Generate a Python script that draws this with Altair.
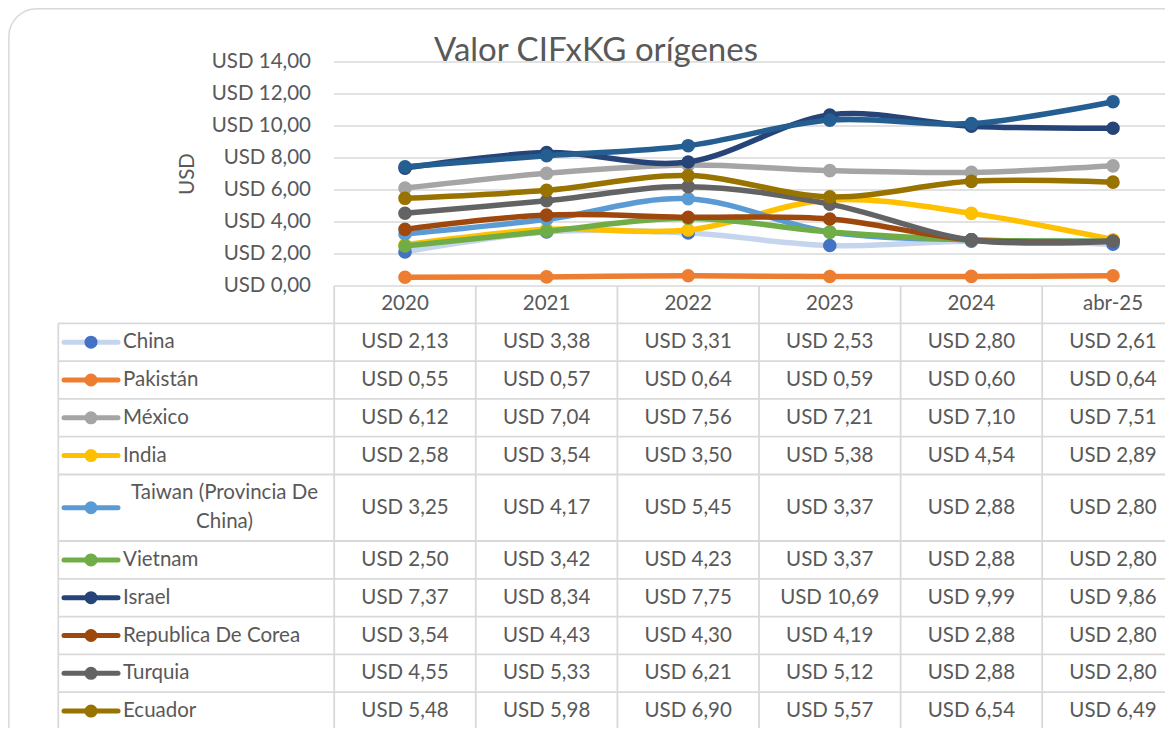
import altair as alt
import pandas as pd

# ---------------- data ----------------
periods = ["2020", "2021", "2022", "2023", "2024", "abr-25"]
series_names = ["China", "Pakistán", "México", "India", "Taiwan (Provincia De China)",
                "Vietnam", "Israel", "Republica De Corea", "Turquia", "Ecuador"]
china = [2.13, 3.38, 3.31, 2.53, 2.80, 2.61]
pakistan = [0.55, 0.57, 0.64, 0.59, 0.60, 0.64]
mexico = [6.12, 7.04, 7.56, 7.21, 7.10, 7.51]
india = [2.58, 3.54, 3.50, 5.38, 4.54, 2.89]
taiwan = [3.25, 4.17, 5.45, 3.37, 2.88, 2.80]
vietnam = [2.50, 3.42, 4.23, 3.37, 2.88, 2.80]
israel = [7.37, 8.34, 7.75, 10.69, 9.99, 9.86]
corea = [3.54, 4.43, 4.30, 4.19, 2.88, 2.80]
turquia = [4.55, 5.33, 6.21, 5.12, 2.88, 2.80]
ecuador = [5.48, 5.98, 6.90, 5.57, 6.54, 6.49]
# eleventh series: its table row lies below the visible area
hidden_name = "Serie 11"
hidden = [7.45, 8.14, 8.77, 10.37, 10.15, 11.52]
y_ticks = [0, 2, 4, 6, 8, 10, 12, 14]

table_values = [china, pakistan, mexico, india, taiwan, vietnam, israel, corea, turquia, ecuador]

# ---------------- styles ----------------
line_colors = ["#C6D5EE", "#ED7D31", "#A5A5A5", "#FFC000", "#5B9BD5", "#70AD47",
               "#264478", "#9E480E", "#636363", "#997300", "#255E91"]
marker_colors = ["#4472C4", "#ED7D31", "#A5A5A5", "#FFC000", "#5B9BD5", "#70AD47",
                 "#264478", "#9E480E", "#636363", "#997300", "#255E91"]
FONT = "Lato"
TXT = "#595959"
GRID = "#D9D9D9"
FS = 20.5

# ---------------- layout (page pixels -> scale units) ----------------
X0, XS = 405.0, 141.6   # page x of first period centre, px per period
Y0, YS = 286.0, 16.0    # page y of value 0, px per unit
PL, PR, PT, PB = 8, 1165, 8, 728   # keep the page from growing past the window
W, H = PR - PL, PB - PT


def px2i(px):
    return (px - X0) / XS


def py2v(py):
    return (Y0 - py) / YS


xdom = [px2i(PL), px2i(PR)]
ydom = [py2v(PB), py2v(PT)]
xs = alt.Scale(domain=xdom, nice=False, zero=False)
ys = alt.Scale(domain=ydom, nice=False, zero=False)


def X(f):
    return alt.X(f, type="quantitative", scale=xs, axis=None)


def Y(f):
    return alt.Y(f, type="quantitative", scale=ys, axis=None)


layers = []

# card border (clipped like the reference)
card = pd.DataFrame({"x": [px2i(8.8)], "x2": [px2i(1210)], "y": [py2v(8.8)], "y2": [py2v(760)]})
layers.append(alt.Chart(card).mark_rect(filled=False, stroke=GRID, strokeWidth=1.5,
                                        cornerRadius=28, clip=True).encode(
    x=X("x"), x2="x2", y=Y("y"), y2="y2"))

# horizontal gridlines
grid = pd.DataFrame({"g": y_ticks, "x": px2i(334.2), "x2": xdom[1]})
layers.append(alt.Chart(grid).mark_rule(color=GRID, strokeWidth=1.5).encode(
    x=X("x"), x2="x2", y=Y("g")))

# y axis labels
ylab = pd.DataFrame({"g": y_ticks,
                     "t": [f"USD {v:.2f}".replace(".", ",") for v in y_ticks],
                     "x": px2i(311)})
layers.append(alt.Chart(ylab).mark_text(align="right", baseline="middle", font=FONT,
                                        fontSize=FS, color=TXT).encode(
    x=X("x"), y=Y("g"), text="t:N"))

# y axis title
layers.append(alt.Chart(pd.DataFrame({"x": [px2i(188)], "y": [py2v(174)], "t": ["USD"]})).mark_text(
    angle=270, align="center", baseline="middle", font=FONT, fontSize=FS, color=TXT).encode(
    x=X("x"), y=Y("y"), text="t:N"))

# chart title
layers.append(alt.Chart(pd.DataFrame({"x": [px2i(596)], "y": [py2v(61)],
                                      "t": ["Valor CIFxKG orígenes"]})).mark_text(
    align="center", baseline="alphabetic", font=FONT, fontSize=33, color=TXT).encode(
    x=X("x"), y=Y("y"), text="t:N"))

# ---------------- table geometry ----------------
header_bottom = 323.3
tops, bots = [], []
cur = header_bottom
for name in series_names:
    h = 66.5 if name.startswith("Taiwan") else 37.8
    tops.append(cur)
    bots.append(cur + h)
    cur += h
table_bottom = cur

# horizontal table lines
hl = pd.DataFrame({"y": [py2v(v) for v in [header_bottom] + bots], "x": px2i(58.3), "x2": xdom[1]})
layers.append(alt.Chart(hl).mark_rule(color=GRID, strokeWidth=1.8).encode(
    x=X("x"), x2="x2", y=Y("y")))

# vertical column lines
vl = pd.DataFrame({"x": [k - 0.5 for k in range(len(periods) + 1)], "y": 0.0,
                   "y2": py2v(table_bottom)})
layers.append(alt.Chart(vl).mark_rule(color=GRID, strokeWidth=1.8).encode(
    x=X("x"), y=Y("y"), y2="y2"))
layers.append(alt.Chart(pd.DataFrame({"x": [px2i(58.3)], "y": [py2v(header_bottom)],
                                      "y2": [py2v(table_bottom)]})).mark_rule(
    color=GRID, strokeWidth=1.8).encode(x=X("x"), y=Y("y"), y2="y2"))

# header labels
hd = pd.DataFrame({"x": list(range(len(periods))), "y": py2v(304), "t": periods})
layers.append(alt.Chart(hd).mark_text(align="center", baseline="middle", font=FONT,
                                      fontSize=FS, color=TXT).encode(
    x=X("x"), y=Y("y"), text="t:N"))

# cell values
rows = []
for r, (name, vals) in enumerate(zip(series_names, table_values)):
    yc = py2v((tops[r] + bots[r]) / 2)
    for k, v in enumerate(vals):
        rows.append({"x": k, "y": yc, "t": f"USD {v:.2f}".replace(".", ",")})
cells = pd.DataFrame(rows)
layers.append(alt.Chart(cells).mark_text(align="center", baseline="middle", font=FONT,
                                         fontSize=FS, color=TXT).encode(
    x=X("x"), y=Y("y"), text="t:N"))

# row labels
lab_rows, wrap_rows, sym_rows = [], [], []
for r, name in enumerate(series_names):
    yc = py2v((tops[r] + bots[r]) / 2)
    if name.startswith("Taiwan"):
        wrap_rows.append({"x": px2i(224.5), "y": yc, "t": name.replace(" China)", "\nChina)")})
    else:
        lab_rows.append({"x": px2i(123), "y": yc, "t": name})
    sym_rows.append({"x": px2i(64), "x2": px2i(118), "xm": px2i(91), "y": yc,
                     "lc": line_colors[r], "mc": marker_colors[r]})
layers.append(alt.Chart(pd.DataFrame(lab_rows)).mark_text(align="left", baseline="middle",
                                                          font=FONT, fontSize=FS, color=TXT).encode(
    x=X("x"), y=Y("y"), text="t:N"))
layers.append(alt.Chart(pd.DataFrame(wrap_rows)).mark_text(align="center", baseline="middle",
                                                           lineBreak="\n", lineHeight=29, dy=-14.5,
                                                           font=FONT, fontSize=FS, color=TXT).encode(
    x=X("x"), y=Y("y"), text="t:N"))

# legend keys in the table
sym = pd.DataFrame(sym_rows)
layers.append(alt.Chart(sym).mark_rule(strokeWidth=5, strokeCap="round").encode(
    x=X("x"), x2="x2", y=Y("y"), color=alt.Color("lc:N", scale=None)))
layers.append(alt.Chart(sym).mark_point(filled=True, opacity=1, size=170, shape="circle").encode(
    x=X("xm"), y=Y("y"), color=alt.Color("mc:N", scale=None)))

# ---------------- series lines ----------------
all_series = list(zip(series_names + [hidden_name], table_values + [hidden]))
for s, (name, vals) in enumerate(all_series):
    d = pd.DataFrame({"x": list(range(len(periods))), "v": vals, "serie": name})
    layers.append(alt.Chart(d).mark_line(interpolate="cardinal", strokeWidth=5.5,
                                         strokeCap="round", strokeJoin="round",
                                         color=line_colors[s]).encode(
        x=X("x"), y=Y("v")))
    layers.append(alt.Chart(d).mark_point(filled=True, opacity=1, size=185, shape="circle",
                                          color=marker_colors[s]).encode(
        x=X("x"), y=Y("v")))

chart = alt.layer(*layers).properties(
    width=W, height=H,
    autosize=alt.AutoSizeParams(type="none"),
    padding={"left": 0, "right": 0, "top": 0, "bottom": 0},
    background="white",
).configure_view(stroke=None)

chart.save("out.html", embed_options={"renderer": "svg", "actions": False})
